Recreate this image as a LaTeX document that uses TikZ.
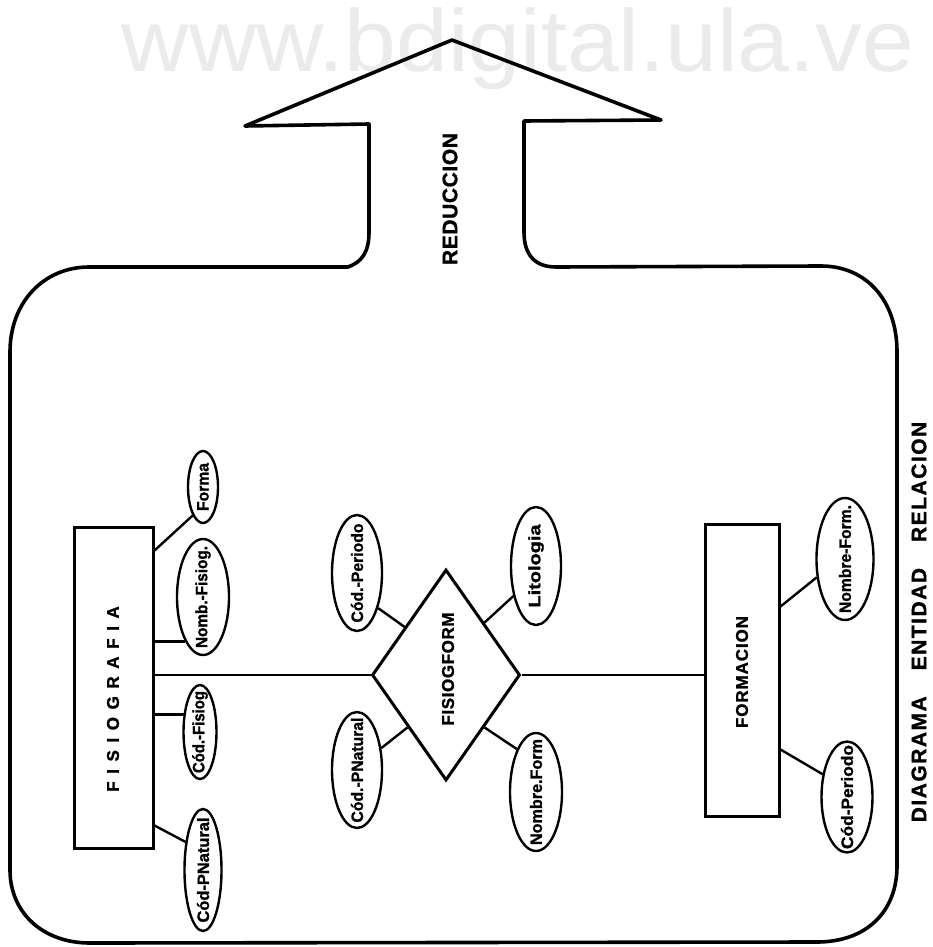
\documentclass[tikz,border=0pt]{standalone}
\usepackage{fontspec}
\setmainfont{Liberation Sans}[BoldFeatures={FakeBold=1.3}]
\usepackage{graphicx}
\usetikzlibrary{shapes.geometric,calc}
\makeatletter
\newcommand{\spaced}[2]{\def\sp@g{#1}\let\sp@sep\relax\@tfor\sp@c:=#2\do{\sp@sep\sp@c\def\sp@sep{\kern\sp@g}}}
\makeatother
\newcommand{\fitx}[2]{\resizebox{#1}{\height}{#2}}
\newcommand{\attrfont}{\fontsize{16.5pt}{16.5pt}\selectfont\bfseries}
\tikzset{
 outline/.style={line width=3.6pt, line join=round},
 ent/.style={draw, line width=3pt, inner sep=0pt},
 rel/.style={diamond, draw, line width=3pt, inner sep=0pt},
 attr/.style 2 args={ellipse, draw, line width=2.4pt, inner sep=0pt, minimum width=#1, minimum height=#2},
 conn/.style={line width=2.4pt},
 lbl/.style={rotate=90, inner sep=0pt, font=\attrfont},
 caplbl/.style={rotate=90, inner sep=0pt, font=\fontsize{17pt}{17pt}\selectfont\bfseries},
 biglbl/.style={rotate=90, inner sep=0pt, font=\fontsize{21pt}{21pt}\selectfont\bfseries},
}
\begin{document}
\begin{tikzpicture}[x=1pt, y=-1pt]
\useasboundingbox (0,0) rectangle (932,947);
\fill[white] (0,0) rectangle (932,947);
% watermark
\node[anchor=base, text=black!8, inner sep=0pt, font=\fontsize{88pt}{88pt}\selectfont] (wm) at (518,72) {\fitx{792pt}{www.bdigital.ula.ve}};
% outline arrow
\draw[outline] (452,40) -- (661,120) -- (524,121) -- (524,232)
  .. controls (524,255) and (535,267) .. (556,267) -- (821,266)
  .. controls (866,266) and (897,300) .. (897,352) -- (897,866)
  .. controls (897,912) and (866,942) .. (817,942) -- (90,943)
  .. controls (42,943) and (10,912) .. (10,870) -- (10,352)
  .. controls (10,302) and (44,267) .. (89,267) -- (348,267)
  .. controls (362,262) and (369,252) .. (369,232) -- (369,124) -- (245,126) -- cycle;
\node[biglbl] (red) at (450,199) {\spaced{0.6pt}{REDUCCION}};
\node[biglbl] (der) at (919,622) {\spaced{1.5pt}{DIAGRAMA}\hspace{26pt}\spaced{1.5pt}{ENTIDAD}\hspace{26pt}\spaced{1.5pt}{RELACION}};
% entities and relation
\node[ent, minimum width=79pt, minimum height=321pt] (fis) at (113.5,687.5) {};
\node[caplbl] (fist) at (113,699) {\spaced{7.6pt}{FISIOGRAFIA}};
\node[rel, minimum width=148pt, minimum height=211pt] (dia) at (446,675) {};
\node[caplbl] (diat) at (448,669) {\spaced{0.6pt}{FISIOGFORM}};
\node[ent, minimum width=74pt, minimum height=292pt] (form) at (742,670) {};
\node[caplbl] (formt) at (742,672) {\spaced{0.9pt}{FORMACION}};
% attributes
\node[attr={30pt}{72pt}, label={[lbl]center:{\fitx{48pt}{Forma}}}] (forma) at (203,487) {};
\node[attr={52pt}{116pt}, label={[lbl]center:{\fitx{102pt}{Nomb.-Fisiog.}}}] (nomb) at (203,597) {};
\node[attr={33pt}{94pt}, label={[lbl]center:{\fitx{82pt}{Cód.-Fisiog}}}] (codfis) at (200,732) {};
\node[attr={37pt}{122pt}, label={[lbl]center:{\fitx{105pt}{Cód-PNatural}}}] (codpn) at (203,870) {};
\node[attr={50pt}{116pt}, label={[lbl]center:{\fitx{99pt}{Cód.-Periodo}}}] (cper) at (357,573) {};
\node[attr={50pt}{118pt}, label={[lbl]center:{\fitx{83pt}{Litologia}}}] (lito) at (536,566) {};
\node[attr={50pt}{116pt}, label={[lbl]center:{\fitx{105pt}{Cód.-PNatural}}}] (cpn2) at (357,770) {};
\node[attr={52pt}{118pt}, label={[lbl]center:{\fitx{106pt}{Nombre.Form}}}] (nform) at (536,792) {};
\node[attr={57pt}{122pt}, label={[lbl]center:{\fitx{108pt}{Nombre-Form.}}}] (nformf) at (845,559) {};
\node[attr={51pt}{111pt}, label={[lbl]center:{\fitx{104pt}{Cód-Periodo}}}] (cper2) at (847,797) {};
% connectors
\draw[conn] ($(fis.north east)+(0,25)$) -- (forma.250);
\draw[conn] (nomb.248 -| fis.east) -- (nomb.248);
\draw[conn] (fis.east |- dia.west) -- (dia.west);
\draw[conn] (codfis.133 -| fis.east) -- (codfis.133);
\draw[conn] ($(fis.south east)+(0,-24)$) -- (codpn.122);
\draw[conn] ($(dia.west)!0.45!(dia.north)$) -- (cper.301);
\draw[conn] ($(dia.north)!0.51!(dia.east)$) -- (lito.233);
\draw[conn] ($(dia.west)!0.49!(dia.south)$) -- (cpn2.42);
\draw[conn] ($(dia.east)!0.49!(dia.south)$) -- (nform.114);
\draw[conn] (dia.east) -- (dia.east -| form.west);
\draw[conn] ($(form.north east)+(0,84)$) -- (nformf.213);
\draw[conn] ($(form.south east)+(0,-68)$) -- (cper2.137);
\end{tikzpicture}
\end{document}
